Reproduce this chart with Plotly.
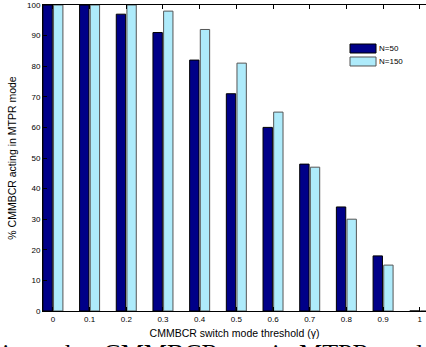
import plotly.graph_objects as go

thresholds = [0, 0.1, 0.2, 0.3, 0.4, 0.5, 0.6, 0.7, 0.8, 0.9, 1.0]
n50 = [100, 100, 97, 91, 82, 71, 60, 48, 34, 18, 0]
n150 = [100, 100, 100, 98, 92, 81, 65, 47, 30, 15, 0]
tick_vals = thresholds
tick_text = ["0", "0.1", "0.2", "0.3", "0.4", "0.5", "0.6", "0.7", "0.8", "0.9", "1"]
y_ticks = list(range(0, 101, 10))
series_names = ["N=50", "N=150"]
series_colors = ["#000088", "#AEEBFB"]
series_edges = ["#000000", "#555555"]

fig = go.Figure()
for name, vals, col, edge in zip(series_names, [n50, n150], series_colors, series_edges):
    fig.add_trace(go.Bar(x=thresholds, y=vals, name=name, showlegend=False,
                         marker=dict(color=col, line=dict(color=edge, width=1))))

font = "Liberation Sans, Arial, sans-serif"
fig.update_layout(
    width=426, height=347,
    margin=dict(l=43, r=0, t=5, b=36),
    paper_bgcolor="white", plot_bgcolor="white",
    barmode="group", bargap=0.42, bargroupgap=0.12,
    font=dict(family=font, size=9, color="#000000"),
    xaxis=dict(range=[-0.027, 1.017], tickvals=tick_vals, ticktext=tick_text,
               ticks="inside", ticklen=4, tickcolor="#000", showline=True,
               linecolor="#000", linewidth=1, mirror="ticks", showgrid=False,
               zeroline=False, tickfont=dict(size=8), automargin=False,
               ticklabeloverflow="allow",
               title=dict(text="CMMBCR switch mode threshold (γ)", font=dict(size=10.5), standoff=7)),
    yaxis=dict(range=[0, 100], tickvals=y_ticks, ticks="inside", ticklen=4,
               tickcolor="#000", showline=True, linecolor="#000", linewidth=1,
               showgrid=False, zeroline=False, tickfont=dict(size=8), automargin=False,
               title=dict(text="% CMMBCR acting in MTPR mode", font=dict(size=10.5), standoff=8)),
)

# legend drawn as swatches + labels (top-right, MATLAB style)
leg_y = [(0.8431, 0.8725), (0.8007, 0.8301)]
for (y0, y1), name, col, edge in zip(leg_y, series_names, series_colors, series_edges):
    fig.add_shape(type="rect", xref="paper", yref="paper", x0=0.8016, x1=0.8695, y0=y0, y1=y1,
                  fillcolor=col, line=dict(color=edge, width=1))
    fig.add_annotation(text=name, xref="paper", yref="paper", x=0.872, y=(y0 + y1) / 2,
                       xanchor="left", yanchor="middle", showarrow=False,
                       font=dict(size=8, family=font, color="#000"))

fig.add_annotation(text="times that CMMBCR acts in MTPR mode", xref="paper", yref="paper",
                   x=-0.13, y=-0.1915, xanchor="left", yanchor="bottom", showarrow=False,
                   font=dict(family="Liberation Serif, Times New Roman, serif", size=26, color="#000"))

fig.write_html("out.html", config={"displayModeBar": False},
               post_script="document.body.style.margin='0';document.body.style.overflow='hidden';")
